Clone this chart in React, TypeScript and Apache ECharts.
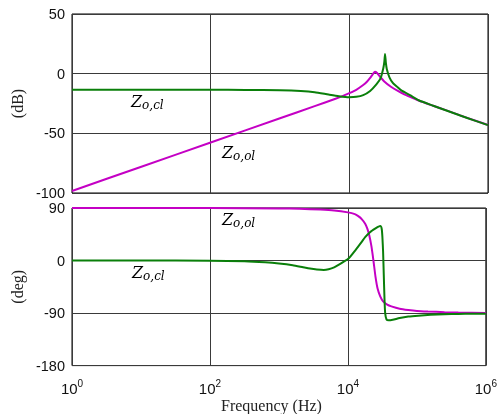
import React, { useEffect, useRef } from 'react';
import * as echarts from 'echarts';

// Frequency given as log10(f / Hz)
const olMagLogF = [0, 1, 2, 3, 3.5, 3.8, 3.9, 4.0, 4.1, 4.2, 4.25, 4.3, 4.34, 4.37, 4.4, 4.45, 4.5, 4.6, 4.7, 4.8, 4.9, 5.0, 5.2, 5.4, 5.6, 5.8, 6.0];
const olMagDb = [-98.3, -78, -57.7, -37.4, -27.2, -21, -18.8, -16.3, -13.5, -9.5, -7, -3.5, -0.3, 1.6, 0.6, -3, -6.3, -11, -14.5, -17.5, -20, -22.5, -26.7, -30.8, -35, -39, -43];

const clMagLogF = [0, 1, 2, 2.5, 3.0, 3.3, 3.5, 3.7, 3.85, 4.0, 4.1, 4.2, 4.3, 4.39, 4.45, 4.49, 4.505, 4.515, 4.527, 4.54, 4.58, 4.63, 4.68, 4.75, 4.875, 5.0, 5.2, 5.4, 5.6, 5.8, 6.0];
const clMagDb = [-13.5, -13.5, -13.5, -13.6, -13.9, -14.5, -15.5, -17.5, -18.9, -19.7, -19.4, -18, -14.5, -9, -4, 4.5, 10, 16.5, 9, 4, -3.3, -8, -10.5, -14, -18, -22.3, -26.7, -30.9, -35.1, -39.1, -43.1];

const olPhLogF = [0, 1, 2, 3, 3.3, 3.6, 3.8, 4.0, 4.1, 4.15, 4.2, 4.25, 4.28, 4.31, 4.34, 4.37, 4.4, 4.43, 4.47, 4.51, 4.57, 4.63, 4.75, 4.875, 5.0, 5.16, 5.4, 5.6, 6.0];
const olPhDeg = [90, 90, 89.8, 89.2, 88.6, 87.3, 85.8, 82.5, 79.5, 76, 71, 63, 55, 43, 25, 0, -28, -48, -62, -70, -75.5, -78.5, -82.5, -84.7, -86.3, -87.3, -88.5, -89.2, -89.7];

const clPhLogF = [0, 1, 2, 2.5, 2.8, 3.0, 3.2, 3.35, 3.45, 3.55, 3.65, 3.72, 3.8, 3.87, 3.94, 4.01, 4.11, 4.2, 4.25, 4.32, 4.4, 4.45, 4.47, 4.49, 4.5, 4.51, 4.52, 4.53, 4.54, 4.56, 4.59, 4.65, 4.75, 4.875, 5.02, 5.2, 5.4, 5.6, 5.8, 6.0];
const clPhDeg = [0, 0, -0.3, -1.2, -3, -5, -8, -11.5, -13.8, -15.4, -16.2, -15, -11.8, -7, -2, 3.5, 18, 32, 40, 48.5, 55, 58.5, 59, 54, 40, 15, -25, -65, -90, -101, -102.5, -101.5, -98.5, -96, -94.4, -93, -92, -91.5, -91.2, -91];

const xTickExps = [0, 2, 4, 6];
const magTicks = [-100, -50, 0, 50];
const phaseTicks = [-180, -90, 0, 90];

const MAGENTA = '#c400c4';
const GREEN = '#0a7f0a';

export default function App() {
  const ref = useRef<HTMLDivElement>(null);
  useEffect(() => {
    const chart = echarts.init(ref.current!, null, { renderer: 'svg' });
    const zip = (xs: number[], ys: number[]) => xs.map((x, i) => [x, ys[i]]);
    const splitLine = { show: true, lineStyle: { color: '#3a3a3a', width: 1 } };
    const tickLabel = { color: '#111', fontFamily: 'Liberation Sans, Arial, sans-serif', fontSize: 14.5 };
    const nameStyle = { fontFamily: 'Liberation Serif, serif', fontSize: 16, color: '#222' };
    const mathRich = {
      z: { fontFamily: 'DejaVu Serif', fontStyle: 'italic', fontSize: 16, lineHeight: 20, color: '#222' },
      s: { fontFamily: 'DejaVu Serif', fontStyle: 'italic', fontSize: 12, lineHeight: 10, verticalAlign: 'bottom', color: '#222' },
    };
    const label = (txt: string, x: number, y: number) => ({
      type: 'text',
      silent: true,
      style: { text: `{z|Z}{s|${txt}}`, rich: mathRich, x, y, verticalAlign: 'middle', align: 'left' },
    });
    const line = (name: string, data: number[][], color: string, idx: number) => ({
      name,
      type: 'line',
      xAxisIndex: idx,
      yAxisIndex: idx,
      data,
      showSymbol: false,
      smooth: 0.2,
      lineStyle: { color, width: 2 },
      itemStyle: { color },
      z: 3,
    });
    chart.setOption({
      animation: false,
      grid: [
        { left: 72, top: 14, width: 416, height: 179, show: true, borderColor: '#000', borderWidth: 1, backgroundColor: 'transparent' },
        { left: 72, top: 208, width: 416, height: 159, show: true, borderColor: '#000', borderWidth: 1, backgroundColor: 'transparent' },
      ],
      xAxis: [
        {
          type: 'value', gridIndex: 0, min: xTickExps[0], max: xTickExps[xTickExps.length - 1], interval: 2,
          axisLabel: { show: false }, axisTick: { show: false }, axisLine: { show: false }, splitLine,
        },
        {
          type: 'value', gridIndex: 1, min: xTickExps[0], max: xTickExps[xTickExps.length - 1], interval: 2,
          axisTick: { show: false }, axisLine: { show: false }, splitLine,
          axisLabel: {
            margin: 13,
            formatter: (v: number) => `{b|10}{s|${v}}`,
            rich: {
              b: { ...tickLabel, fontSize: 15, lineHeight: 20 },
              s: { ...tickLabel, fontSize: 10, lineHeight: 10, verticalAlign: 'top' },
            },
          },
          name: 'Frequency (Hz)', nameLocation: 'middle', nameGap: 31,
          nameTextStyle: { ...nameStyle, padding: [0, 15, 0, 0] },
        },
      ],
      yAxis: [
        {
          type: 'value', gridIndex: 0, min: magTicks[0], max: magTicks[magTicks.length - 1], interval: 50,
          axisTick: { show: false }, axisLine: { show: false }, splitLine,
          axisLabel: { ...tickLabel, margin: 7 },
          name: '(dB)', nameLocation: 'middle', nameGap: 42,
          nameTextStyle: nameStyle,
        },
        {
          type: 'value', gridIndex: 1, min: phaseTicks[0], max: phaseTicks[phaseTicks.length - 1], interval: 90,
          axisTick: { show: false }, axisLine: { show: false }, splitLine,
          axisLabel: { ...tickLabel, margin: 7 },
          name: '(deg)', nameLocation: 'middle', nameGap: 42,
          nameTextStyle: nameStyle,
        },
      ],
      series: [
        line('Zo,ol |Z|', zip(olMagLogF, olMagDb), MAGENTA, 0),
        line('Zo,cl |Z|', zip(clMagLogF, clMagDb), GREEN, 0),
        line('Zo,ol phase', zip(olPhLogF, olPhDeg), MAGENTA, 1),
        line('Zo,cl phase', zip(clPhLogF, clPhDeg), GREEN, 1),
      ],
      graphic: [
        label('o,cl', 131, 101),
        label('o,ol', 222, 152),
        label('o,ol', 222, 219),
        label('o,cl', 132, 272),
      ],
    });
    return () => chart.dispose();
  }, []);
  return <div ref={ref} style={{ position: 'fixed', left: 0, top: 0, width: 500, height: 414 }} />;
}
